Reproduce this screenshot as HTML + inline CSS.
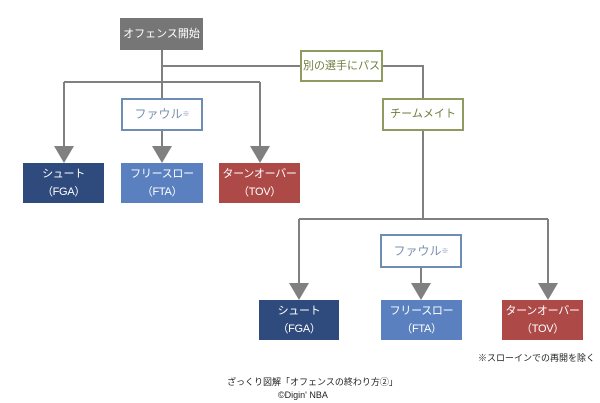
<!DOCTYPE html>
<html><head><meta charset="utf-8"><style>
body{margin:0;background:#fff;}
.b{position:absolute;box-sizing:border-box;display:flex;align-items:center;justify-content:center;text-align:center;font-family:"Liberation Sans","Noto Sans CJK JP",sans-serif;font-size:11px;line-height:15px;white-space:nowrap;}
.f{color:#fff;}
.f2{color:#fff;font-size:11px;line-height:18px;letter-spacing:-0.3px;}
.o{border:2px solid #8e9b5e;color:#6f7d3e;background:#fff;}
.u{border:2px solid #6e8db4;color:#7a8fb0;background:#fff;font-size:12px;}
.t{position:absolute;font-family:"Liberation Sans","Noto Sans CJK JP",sans-serif;font-size:9px;color:#222;white-space:nowrap;}
</style></head><body>
<div style="position:relative;width:600px;height:403px;overflow:hidden">
<svg width="600" height="403" style="position:absolute;left:0;top:0" fill="none" stroke="#808080" stroke-width="2">
<path d="M162 50V147M162 66H300M383 66H423V98M64 82H260M64 82V147M260 82V147M423 131V219M299 219H548M299 219V284M548 219V284M421 268V284"/>
<g fill="#808080" stroke="none">
<polygon points="54,146 74,146 64,163"/><polygon points="152,146 172,146 162,163"/><polygon points="250,146 270,146 260,163"/>
<polygon points="289,283 309,283 299,300"/><polygon points="411,283 431,283 421,300"/><polygon points="538,283 558,283 548,300"/>
</g></svg>
<div class="b f" style="left:120px;top:18px;width:83px;height:32px;background:#767676">オフェンス開始</div>
<div class="b o" style="left:300px;top:50px;width:83px;height:32px">別の選手にパス</div>
<div class="b u" style="left:121px;top:98px;width:82px;height:33px">ファウル<span style="font-size:7px">※</span></div>
<div class="b o" style="left:382px;top:98px;width:82px;height:33px">チームメイト</div>
<div class="b f2" style="left:23px;top:163px;width:81px;height:40px;background:#2f4a7d">シュート<br>（FGA）</div>
<div class="b f2" style="left:121px;top:163px;width:82px;height:40px;background:#5a80bf">フリースロー<br>（FTA）</div>
<div class="b f2" style="left:219px;top:163px;width:81px;height:40px;background:#ad4a48">ターンオーバー<br>（TOV）</div>
<div class="b u" style="left:380px;top:234px;width:82px;height:34px">ファウル<span style="font-size:7px">※</span></div>
<div class="b f2" style="left:259px;top:300px;width:80px;height:40px;background:#2f4a7d">シュート<br>（FGA）</div>
<div class="b f2" style="left:381px;top:300px;width:81px;height:40px;background:#5a80bf">フリースロー<br>（FTA）</div>
<div class="b f2" style="left:502px;top:300px;width:81px;height:40px;background:#ad4a48">ターンオーバー<br>（TOV）</div>
<div class="t" style="left:478px;top:351px">※スローインでの再開を除く</div>
<div class="t" style="left:227px;top:375px">ざっくり図解「オフェンスの終わり方②」</div>
<div class="t" style="left:278px;top:390px">©Digin' NBA</div>
</div></body></html>
